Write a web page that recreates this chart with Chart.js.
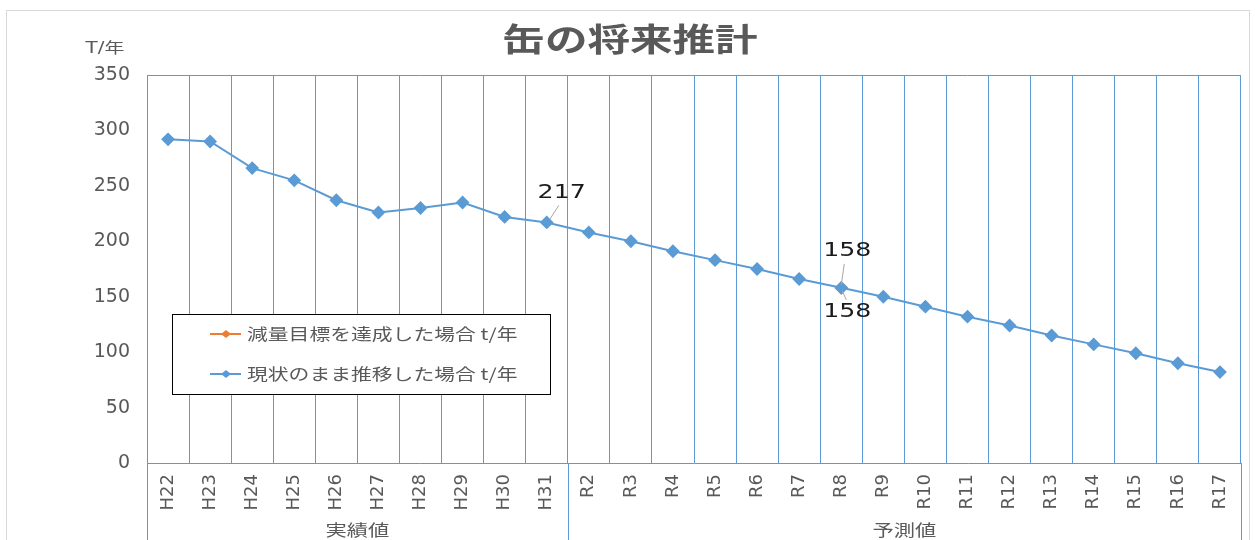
<!DOCTYPE html>
<html lang="ja">
<head>
<meta charset="UTF-8">
<title>缶の将来推計</title>
<script src="https://cdn.jsdelivr.net/npm/chart.js"></script>
<style>
  html, body { margin: 0; padding: 0; background: #fff; }
  #wrap { width: 1260px; height: 540px; position: relative; }
</style>
</head>
<body>
<div id="wrap"><canvas id="canGraf"></canvas></div>
<script>
// dati del grafico
const categories = ['H22','H23','H24','H25','H26','H27','H28','H29','H30','H31',
  'R2','R3','R4','R5','R6','R7','R8','R9','R10','R11','R12','R13','R14','R15','R16','R17'];
const groupNames = ['実績値', '予測値'];
const groupSizes = [10, 16];
const targetValues = [null,null,null,null,null,null,null,null,null,null,
  null,null,null,null,null,null,158,null,null,null,null,null,null,null,null,null];
const trendValues = [292,290,266,255,237,226,230,235,222,217,
  208,200,191,183,175,166,158,150,141,132,124,115,107,99,90,82];
const seriesNames = ['減量目標を達成した場合 t/年', '現状のまま推移した場合 t/年'];
const yTicks = [0, 50, 100, 150, 200, 250, 300, 350];
const chartTitle = '缶の将来推計';
const yUnit = 'T/年';

const FONT = "'DejaVu Sans', 'Noto Sans CJK JP', sans-serif";
const GRID = '#5B9BD5';
const TXT = '#595959';
const SX = 1.33; // il testo dell'originale è più largo

// testo allargato in orizzontale
function wideText(c, text, x, y, align, sx) {
  c.save();
  c.translate(x, y);
  c.scale(sx, 1);
  c.textAlign = align;
  c.textBaseline = 'middle';
  c.fillText(text, 0, 0);
  c.restore();
}

// cornice, titolo, legenda, etichette e gruppi
const extras = {
  id: 'extras',
  beforeDraw(chart) {
    const c = chart.ctx;
    c.save();
    c.strokeStyle = '#d9d9d9';
    c.lineWidth = 1;
    c.strokeRect(6.5, 10.5, 1243, 540);
    c.restore();
  },
  afterDraw(chart) {
    const c = chart.ctx;
    const area = chart.chartArea;
    const xs = chart.scales.x;
    c.save();
    // titolo
    c.fillStyle = TXT;
    c.font = "bold 32px 'Noto Sans CJK JP', sans-serif";
    wideText(c, chartTitle, 630, 39, 'center', SX);

    // unità asse y
    c.font = '15px ' + FONT;
    wideText(c, yUnit, 105, 49, 'center', SX);

    // gruppi sotto l'asse x
    c.strokeStyle = GRID;
    c.lineWidth = 1;
    let start = 0;
    const half = (xs.getPixelForValue(1) - xs.getPixelForValue(0)) / 2;
    const edges = [xs.getPixelForValue(0) - half];
    groupSizes.forEach((n, g) => {
      const left = xs.getPixelForValue(start) - half;
      const right = xs.getPixelForValue(start + n - 1) + half;
      edges.push(right);
      c.fillStyle = TXT;
      c.font = "16px 'Noto Sans CJK JP', sans-serif";
      wideText(c, groupNames[g], (left + right) / 2, 530, 'center', SX);
      start += n;
    });
    edges.forEach(x => {
      const px = Math.round(x) + 0.5;
      c.beginPath();
      c.moveTo(px, area.bottom);
      c.lineTo(px, 540);
      c.stroke();
    });

    // etichette dei dati
    const blue = chart.getDatasetMeta(1).data;
    const orange = chart.getDatasetMeta(0).data;
    c.font = '19px ' + FONT;
    c.fillStyle = '#1a1a1a';
    c.strokeStyle = '#a6a6a6';
    function label(pt, val, dx, dy, l1, l2) {
      c.beginPath();
      c.moveTo(pt.x + l1[0], pt.y + l1[1]);
      c.lineTo(pt.x + l2[0], pt.y + l2[1]);
      c.stroke();
      wideText(c, String(val), pt.x + dx, pt.y + dy, 'center', SX);
    }
    label(blue[9], trendValues[9], 15, -29, [3, -3], [12, -17]);
    label(blue[16], trendValues[16], 6, -37, [0, -3], [3, -24]);
    label(orange[16], targetValues[16], 6, 24, [1, 3], [5, 12]);

    // legenda
    const lx = 172, ly = 314, lw = 378, lh = 80;
    c.fillStyle = '#fff';
    c.fillRect(lx, ly, lw, lh);
    c.strokeStyle = '#000';
    c.lineWidth = 1;
    c.strokeRect(lx + 0.5, ly + 0.5, lw, lh);
    chart.data.datasets.forEach((ds, i) => {
      const y = ly + 20 + i * 40;
      c.strokeStyle = ds.borderColor;
      c.lineWidth = 2;
      c.beginPath();
      c.moveTo(210, y);
      c.lineTo(241, y);
      c.stroke();
      c.fillStyle = ds.borderColor;
      c.beginPath();
      c.moveTo(226, y - 4); c.lineTo(231, y); c.lineTo(226, y + 4); c.lineTo(221, y);
      c.closePath();
      c.fill();
      c.fillStyle = TXT;
      c.font = "16px 'Noto Sans CJK JP', sans-serif";
      wideText(c, ds.label, 247, y, 'left', 1.3);
    });
    c.restore();
  }
};

const ctx = document.getElementById('canGraf').getContext('2d');
new Chart(ctx, {
  type: 'line',
  data: {
    labels: categories,
    datasets: [
      {
        label: seriesNames[0],
        data: targetValues,
        borderColor: '#ED7D31',
        backgroundColor: '#ED7D31',
        borderWidth: 2,
        pointStyle: 'rectRot',
        pointRadius: 5.5,
        order: 2
      },
      {
        label: seriesNames[1],
        data: trendValues,
        borderColor: '#5B9BD5',
        backgroundColor: '#5B9BD5',
        borderWidth: 2,
        pointStyle: 'rectRot',
        pointRadius: 5.5,
        order: 1
      }
    ]
  },
  options: {
    responsive: true,
    maintainAspectRatio: false,
    animation: false,
    layout: { padding: { left: 0, right: 19, top: 75, bottom: 0 } },
    plugins: {
      legend: { display: false },
      tooltip: { enabled: false },
      title: { display: false }
    },
    scales: {
      x: {
        offset: true,
        grid: {
          offset: true,
          color: GRID,
          drawTicks: false
        },
        border: { color: GRID, width: 1 },
        ticks: {
          minRotation: 90,
          maxRotation: 90,
          autoSkip: false,
          padding: 11,
          color: TXT,
          font: { family: FONT, size: 18 }
        },
        afterFit(s) { s.height = 77; }
      },
      y: {
        min: 0,
        max: 350,
        afterBuildTicks(s) { s.ticks = yTicks.map(v => ({ value: v })); },
        grid: {
          drawTicks: false,
          color: ctx => (ctx.tick && ctx.tick.value === 350 ? GRID : 'rgba(0,0,0,0)')
        },
        border: { display: false },
        ticks: {
          padding: 17,
          color: TXT,
          font: { family: FONT, size: 19 }
        },
        afterFit(s) { s.width = 147; }
      }
    }
  },
  plugins: [extras]
});
</script>
</body>
</html>
